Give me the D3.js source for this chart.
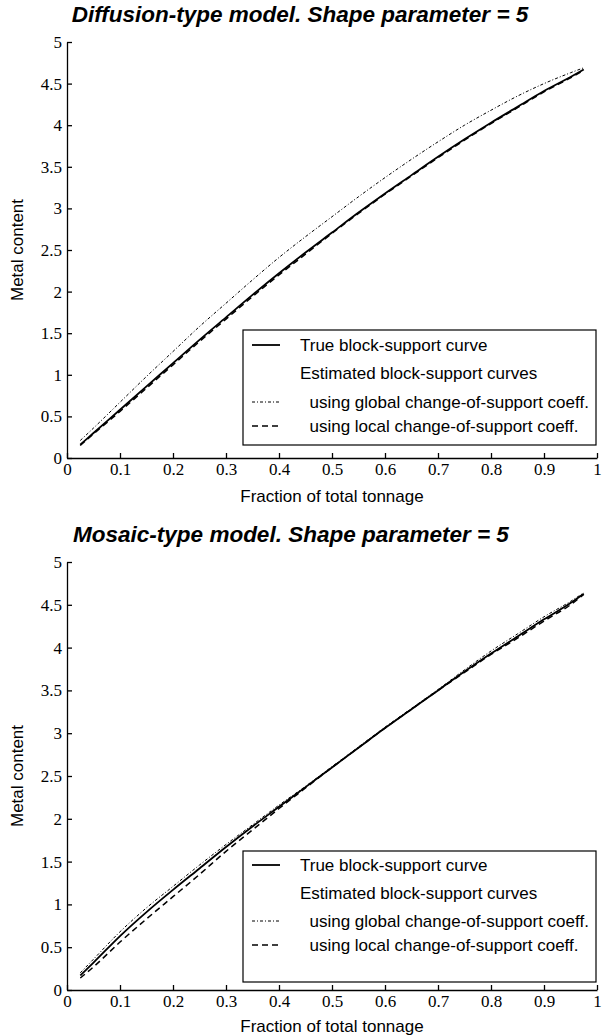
<!DOCTYPE html>
<html>
<head>
<meta charset="utf-8">
<script src="https://cdn.jsdelivr.net/npm/d3@7"></script>
<style>
  body { margin: 0; background: #fff; }
  .axis path, .axis line { stroke: #000; stroke-width: 1.3px; }
  .title { font-family: "Liberation Sans", Arial, sans-serif; font-size: 22.5px; font-weight: bold; font-style: italic; }
  .label { font-family: "Liberation Sans", Arial, sans-serif; font-size: 17px; }
  .legend text { font-family: "Liberation Sans", Arial, sans-serif; font-size: 17px; }
</style>
</head>
<body>
<div id="chart"></div>
<script>
  // fraction of total tonnage where the curves are sampled
  var fractions = [0.025, 0.05, 0.1, 0.15, 0.2, 0.25, 0.3, 0.35, 0.4, 0.45, 0.5,
                   0.55, 0.6, 0.65, 0.7, 0.75, 0.8, 0.85, 0.9, 0.95, 0.975];

  // diffusion-type model
  var diffTrue   = [0.16, 0.30, 0.58, 0.86, 1.14, 1.42, 1.69, 1.96, 2.22, 2.47, 2.71,
                    2.95, 3.18, 3.40, 3.62, 3.83, 4.03, 4.22, 4.41, 4.58, 4.67];
  var diffGlobal = [0.21, 0.36, 0.67, 0.98, 1.28, 1.58, 1.86, 2.14, 2.41, 2.66, 2.90,
                    3.14, 3.37, 3.59, 3.80, 4.00, 4.18, 4.35, 4.50, 4.63, 4.69];
  var diffLocal  = [0.15, 0.29, 0.56, 0.84, 1.12, 1.40, 1.67, 1.94, 2.20, 2.45, 2.70,
                    2.94, 3.17, 3.39, 3.61, 3.82, 4.02, 4.21, 4.40, 4.57, 4.66];

  // mosaic-type model
  var mosTrue    = [0.17, 0.32, 0.63, 0.91, 1.17, 1.42, 1.67, 1.91, 2.14, 2.37, 2.60,
                    2.83, 3.06, 3.28, 3.50, 3.72, 3.93, 4.13, 4.33, 4.52, 4.63];
  var mosGlobal  = [0.20, 0.36, 0.68, 0.96, 1.21, 1.46, 1.70, 1.93, 2.16, 2.38, 2.61,
                    2.84, 3.07, 3.29, 3.51, 3.74, 3.96, 4.16, 4.36, 4.54, 4.64];
  var mosLocal   = [0.14, 0.27, 0.56, 0.83, 1.09, 1.35, 1.62, 1.87, 2.12, 2.36, 2.60,
                    2.83, 3.06, 3.28, 3.50, 3.71, 3.92, 4.11, 4.31, 4.50, 4.62];

  var xTicks = [0, 0.1, 0.2, 0.3, 0.4, 0.5, 0.6, 0.7, 0.8, 0.9, 1];
  var yTicks = [0, 0.5, 1, 1.5, 2, 2.5, 3, 3.5, 4, 4.5, 5];

  var titles = ["Diffusion-type model. Shape parameter = 5", "Mosaic-type model. Shape parameter = 5"];
  var xTitle = "Fraction of total tonnage";
  var yTitle = "Metal content";
  var legendTexts = ["True block-support curve", "Estimated block-support curves",
                     "  using global change-of-support coeff.", "  using local change-of-support coeff."];

  var width = 602, height = 1036;
  var left = 67, right = 597;
  var panels = [
    {title: titles[0], titleX: 300, top: 42, bottom: 458, series: [diffTrue, diffGlobal, diffLocal],
     legendTop: 330, legendHeight: 115, rows: [15, 43, 72, 96], xTitleY: 502},
    {title: titles[1], titleX: 291, top: 562, bottom: 990, series: [mosTrue, mosGlobal, mosLocal],
     legendTop: 851, legendHeight: 131, rows: [14, 42, 70, 94], xTitleY: 1032}
  ];

  var styles = [
    {width: 1.8, dash: null},
    {width: 1, dash: "3,2,1,2"},
    {width: 1.5, dash: "6,4"}
  ];

  var svg = d3.select("#chart")
    .append("svg")
    .attr("width", width)
    .attr("height", height);

  var x = d3.scaleLinear().domain([0, 1]).range([left, right]);

  function tickFont(g) {
    g.attr("font-family", "Liberation Serif")
      .attr("font-size", 17);
    g.selectAll(".tick text")
      .attr("fill", "#000")
      .style("font-family", "'Liberation Serif'")
      .style("font-size", "17px");
  }

  panels.forEach(function (p) {
    var y = d3.scaleLinear().domain([0, 5]).range([p.bottom, p.top]);

    svg.append("text")
      .attr("class", "title")
      .attr("x", p.titleX)
      .attr("y", p.top - 20)
      .attr("text-anchor", "middle")
      .text(p.title);

    svg.append("g")
      .attr("class", "axis x")
      .attr("transform", "translate(0," + p.bottom + ")")
      .call(d3.axisBottom(x).tickValues(xTicks).tickFormat(function (d) { return d; })
        .tickSizeInner(-5).tickSizeOuter(0).tickPadding(5))
      .call(tickFont);

    svg.append("g")
      .attr("class", "axis y")
      .attr("transform", "translate(" + left + ",0)")
      .call(d3.axisLeft(y).tickValues(yTicks).tickFormat(function (d) { return d; })
        .tickSizeInner(-5).tickSizeOuter(0).tickPadding(5))
      .call(tickFont);

    svg.append("text")
      .attr("class", "label")
      .attr("x", (left + right) / 2)
      .attr("y", p.xTitleY)
      .attr("text-anchor", "middle")
      .text(xTitle);

    svg.append("text")
      .attr("class", "label")
      .attr("transform", "translate(23," + (p.top + p.bottom) / 2 + ") rotate(-90)")
      .attr("text-anchor", "middle")
      .text(yTitle);

    p.series.forEach(function (s, i) {
      var line = d3.line()
        .x(function (d, j) { return x(fractions[j]); })
        .y(function (d) { return y(d); })
        .curve(d3.curveMonotoneX);
      svg.append("path")
        .attr("d", line(s))
        .attr("fill", "none")
        .attr("stroke", "#000")
        .attr("stroke-width", styles[i].width)
        .attr("stroke-dasharray", styles[i].dash);
    });

    // legend
    var lg = svg.append("g")
      .attr("class", "legend")
      .attr("transform", "translate(243," + p.legendTop + ")");
    lg.append("rect")
      .attr("width", 353)
      .attr("height", p.legendHeight)
      .attr("fill", "#fff")
      .attr("stroke", "#000")
      .attr("stroke-width", 1.2);
    var sample = [0, null, 1, 2];
    p.rows.forEach(function (ry, i) {
      if (sample[i] !== null) {
        lg.append("line")
          .attr("x1", 9).attr("x2", 37)
          .attr("y1", ry).attr("y2", ry)
          .attr("stroke", "#000")
          .attr("stroke-width", styles[sample[i]].width)
          .attr("stroke-dasharray", styles[sample[i]].dash);
      }
      lg.append("text")
        .attr("x", 57)
        .attr("y", ry + 6)
        .style("white-space", "pre")
        .text(legendTexts[i]);
    });
  });
</script>
</body>
</html>
